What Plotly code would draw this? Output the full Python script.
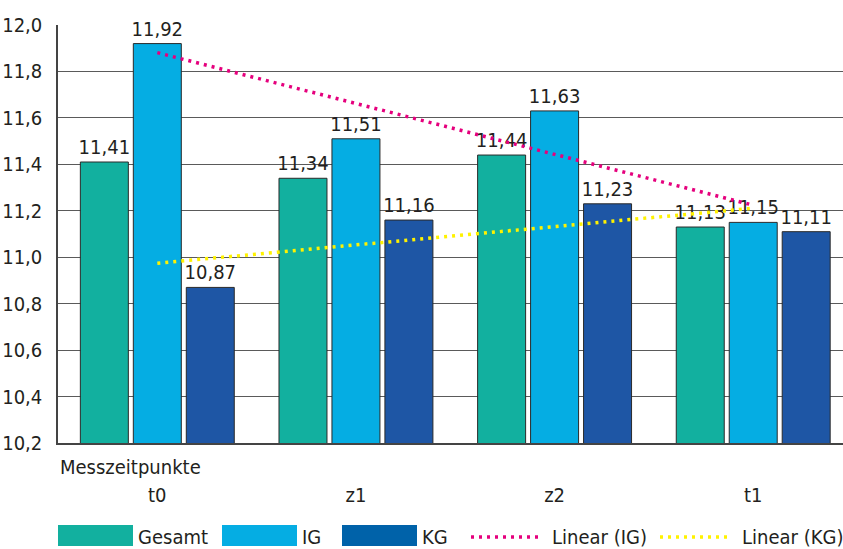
import numpy as np
import plotly.graph_objects as go

categories = ["t0", "z1", "z2", "t1"]
gesamt = [11.41, 11.34, 11.44, 11.13]
ig = [11.92, 11.51, 11.63, 11.15]
kg = [10.87, 11.16, 11.23, 11.11]
y_ticks = [10.2, 10.4, 10.6, 10.8, 11.0, 11.2, 11.4, 11.6, 11.8, 12.0]

FONT = "Liberation Sans Narrow, DejaVu Sans Condensed, sans-serif"
FS = 20
TXT = "#231f20"
C_GES = "#12b09f"
C_IG = "#05ade3"
C_KG = "#1e56a5"

fig = go.Figure()
for name, vals, col in [("Gesamt", gesamt, C_GES), ("IG", ig, C_IG), ("KG", kg, C_KG)]:
    fig.add_trace(go.Bar(
        x=categories, y=vals, name=name,
        marker=dict(color=col, line=dict(color="#2a2a2a", width=1)),
        texttemplate="%{y:.2f}", textposition="outside",
        textfont=dict(family=FONT, size=FS, color=TXT),
        cliponaxis=False, constraintext="none", showlegend=False,
    ))

# linear trend lines (least squares on the series)
xi = np.arange(len(categories))
for vals, col, name in [(ig, "#e5007d", "Linear (IG)"), (kg, "#fff200", "Linear (KG)")]:
    m, b = np.polyfit(xi, vals, 1)
    fig.add_trace(go.Scatter(
        x=[categories[0], categories[-1]], y=[b, m * xi[-1] + b],
        mode="lines", name=name, showlegend=False,
        line=dict(color=col, width=3.5, dash="3px,5px"),
        cliponaxis=False,
    ))

fig.update_layout(
    width=843, height=549,
    margin=dict(l=58, r=0, t=25, b=106, autoexpand=False),
    paper_bgcolor="white", plot_bgcolor="white",
    separators=",.",
    barmode="group", bargap=0.2, bargroupgap=0.094,
    font=dict(family=FONT, size=FS, color=TXT),
    xaxis=dict(
        range=[-0.5, 3.452],
        showline=True, linecolor="#444", linewidth=1.5,
        showgrid=False, ticks="", ticklabelstandoff=33,
        tickfont=dict(family=FONT, size=FS, color=TXT),
    ),
    yaxis=dict(
        range=[10.2, 12.0], tickvals=y_ticks, tickformat=".1f",
        showgrid=True, gridcolor="#5a5a5a", gridwidth=1.3,
        showline=True, linecolor="#444", linewidth=1.5,
        ticks="", ticklabelstandoff=10,
        tickfont=dict(family=FONT, size=FS, color=TXT),
        zeroline=False,
    ),
)

fig.add_annotation(xref="paper", yref="paper", x=0, y=-0.0574, xanchor="left", yanchor="middle",
                   text="Messzeitpunkte", showarrow=False, font=dict(family=FONT, size=FS, color=TXT))

# manual legend (paper coords; plot area spans x 58..843 px, y 25..443 px)
def px_x(p):
    return (p - 58) / 785.0

def px_y(p):
    return (443 - p) / 418.0

legend_items = [
    ("rect", C_GES, 58, 133, "Gesamt", 136),
    ("rect", C_IG, 222, 297, "IG", 300),
    ("rect", "#0062a9", 342, 417, "KG", 420),
    ("line", "#e5007d", 471, 543, "Linear (IG)", 550),
    ("line", "#fff200", 660, 732, "Linear (KG)", 740),
]
for kind, col, x0, x1, label, tx in legend_items:
    if kind == "rect":
        fig.add_shape(type="rect", xref="paper", yref="paper",
                      x0=px_x(x0), x1=px_x(x1), y0=px_y(546), y1=px_y(525),
                      fillcolor=col, line=dict(width=0))
    else:
        fig.add_shape(type="line", xref="paper", yref="paper",
                      x0=px_x(x0), x1=px_x(x1), y0=px_y(537), y1=px_y(537),
                      line=dict(color=col, width=3.5, dash="3px,5px"))
    fig.add_annotation(xref="paper", yref="paper", x=px_x(tx), y=px_y(537),
                       xanchor="left", yanchor="middle", text=label, showarrow=False,
                       font=dict(family=FONT, size=FS, color=TXT))

fig.write_html(
    "out.html",
    post_script=(
        "document.documentElement.style.overflow='hidden';"
        "document.body.style.overflow='hidden';"
        "document.body.style.margin='0';"
    ),
)
